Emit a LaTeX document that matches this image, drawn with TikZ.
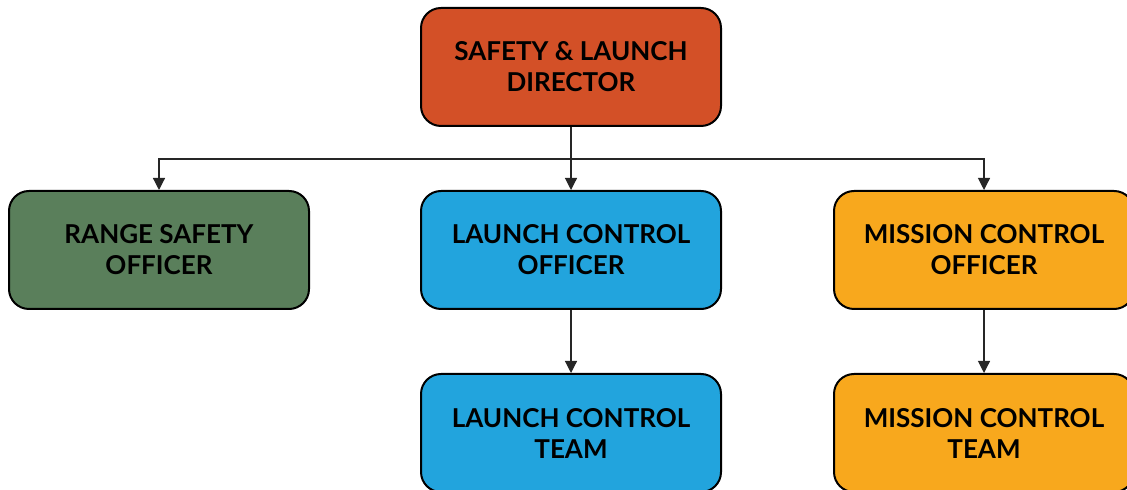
\documentclass[tikz,border=0pt]{standalone}
\usepackage{fontspec}
\setmainfont{Lato}
\usepackage{tikz}
\usetikzlibrary{arrows.meta,positioning}
\definecolor{dirRed}{HTML}{D35027}
\definecolor{rangeGreen}{HTML}{5A7F5B}
\definecolor{launchBlue}{HTML}{22A4DD}
\definecolor{missionGold}{HTML}{F8A81D}

\begin{document}
\begin{tikzpicture}[x=0.5pt, y=-0.5pt,
    box/.style={draw=black, line width=1pt, rounded corners=10pt,
      minimum width=150pt, minimum height=59pt, align=center, text=black,
      font=\bfseries\fontsize{13}{15.5}\selectfont},
    link/.style={draw=black!85, line width=0.6pt, -{Triangle[length=6pt,width=6pt]}}]
  \useasboundingbox (0,0) rectangle (1127,490);
  % Director on top
  \node[box, fill=dirRed] (director) at (571,67) {SAFETY \& LAUNCH\\DIRECTOR};
  % Officers
  \node[box, fill=rangeGreen] (range) at (159,250) {RANGE SAFETY\\OFFICER};
  \node[box, fill=launchBlue] (launch) at (571,250) {LAUNCH CONTROL\\OFFICER};
  \node[box, fill=missionGold] (mission) at (984,250) {MISSION CONTROL\\OFFICER};
  % Teams
  \node[box, fill=launchBlue] (launchteam) at (571,433) {LAUNCH CONTROL\\TEAM};
  \node[box, fill=missionGold] (missionteam) at (984,433) {MISSION CONTROL\\TEAM};
  % Connectors
  \coordinate (split) at (571,159);
  \draw[draw=black!85, line width=0.6pt] (director.south) -- (split);
  \draw[link] (split) -| (range.north);
  \draw[link] (split) -| (mission.north);
  \draw[link] (director.south) -- (launch.north);
  \draw[link] (launch.south) -- (launchteam.north);
  \draw[link] (mission.south) -- (missionteam.north);
\end{tikzpicture}
\end{document}
